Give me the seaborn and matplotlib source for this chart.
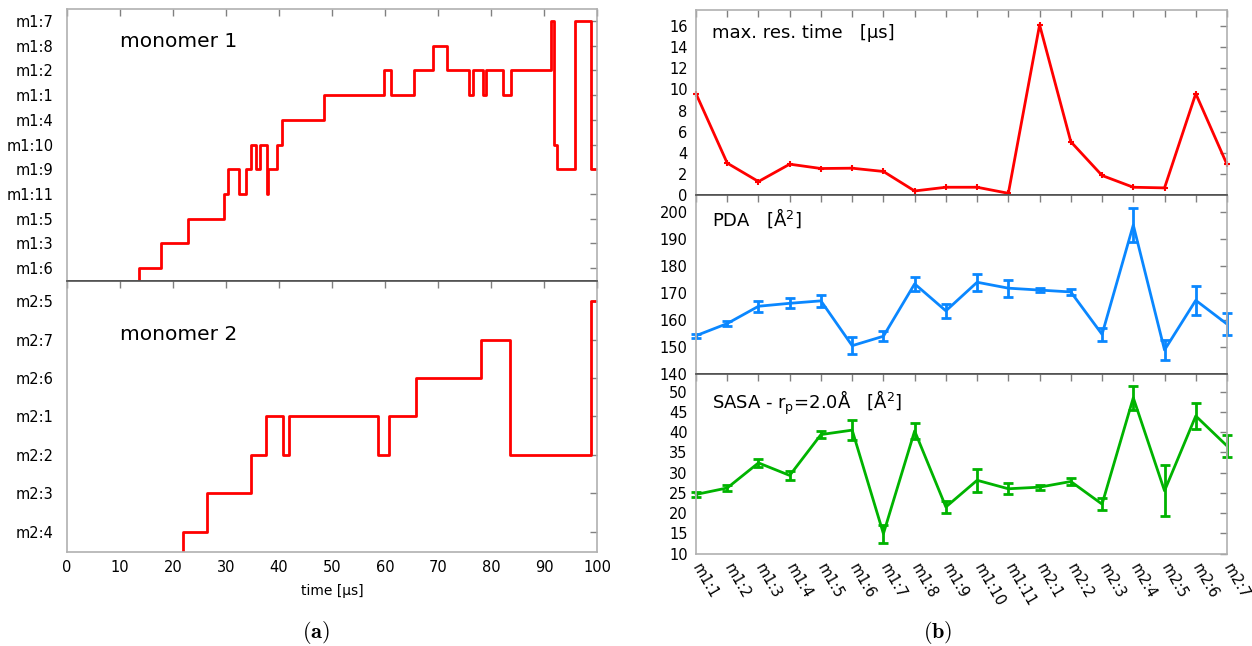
import numpy as np
import pandas as pd
import matplotlib
matplotlib.use("Agg")
import matplotlib.pyplot as plt
import seaborn as sns

sns.set_theme(style="white")
plt.rcParams["font.family"] = ["DejaVu Sans"]
plt.rcParams["text.color"] = "black"
plt.rcParams["axes.labelcolor"] = "black"

# ---------------- data (a) ----------------
m1_levels = ["m1:6", "m1:3", "m1:5", "m1:11", "m1:9", "m1:10", "m1:4", "m1:1", "m1:2", "m1:8", "m1:7"]
m1_time = [0, 13.6, 17.7, 22.9, 29.6, 30.5, 32.5, 33.9, 34.7, 35.7, 36.4, 37.7, 38.0, 39.7,
           40.6, 48.5, 59.9, 61.1, 65.5, 69.1, 71.7, 75.8, 76.6, 78.5, 79.0, 82.2, 83.7,
           91.4, 91.8, 92.5, 95.8, 98.8, 100]
m1_state = ["none", "m1:6", "m1:3", "m1:5", "m1:11", "m1:9", "m1:11", "m1:9", "m1:10", "m1:9",
            "m1:10", "m1:11", "m1:9", "m1:10", "m1:4", "m1:1", "m1:2", "m1:1", "m1:2", "m1:8",
            "m1:2", "m1:1", "m1:2", "m1:1", "m1:2", "m1:1", "m1:2", "m1:7", "m1:10", "m1:9",
            "m1:7", "m1:9", "m1:9"]

m2_levels = ["m2:4", "m2:3", "m2:2", "m2:1", "m2:6", "m2:7", "m2:5"]
m2_time = [0, 21.9, 26.4, 34.7, 37.5, 40.8, 41.9, 58.7, 60.7, 65.9, 78.2, 83.6, 98.8, 100]
m2_state = ["none", "m2:4", "m2:3", "m2:2", "m2:1", "m2:2", "m2:1", "m2:2", "m2:1", "m2:6",
            "m2:7", "m2:2", "m2:5", "m2:5"]

time_ticks = [0, 10, 20, 30, 40, 50, 60, 70, 80, 90, 100]

# ---------------- data (b) ----------------
sites = ["m1:1", "m1:2", "m1:3", "m1:4", "m1:5", "m1:6", "m1:7", "m1:8", "m1:9", "m1:10",
         "m1:11", "m2:1", "m2:2", "m2:3", "m2:4", "m2:5", "m2:6", "m2:7"]
max_res = [9.6, 3.04, 1.3, 2.94, 2.53, 2.56, 2.25, 0.41, 0.76, 0.76, 0.19, 16.1, 5.06, 1.87,
           0.76, 0.70, 9.6, 2.91]
pda = [154.3, 158.8, 165.2, 166.3, 167.2, 150.6, 154.1, 173.5, 163.5, 174.1, 171.9, 171.2,
       170.5, 154.8, 195.3, 149.0, 167.4, 158.6]
pda_err = [0.7, 1.0, 2.1, 1.9, 2.2, 3.1, 1.85, 2.7, 2.6, 3.1, 3.1, 0.7, 1.05, 2.3, 6.3, 3.7,
           5.4, 4.1]
sasa = [24.6, 26.2, 32.4, 29.3, 39.4, 40.5, 14.9, 40.3, 21.5, 28.1, 26.0, 26.4, 27.8, 22.2,
        48.5, 25.5, 44.0, 36.6]
sasa_err = [0.6, 0.7, 1.0, 1.2, 0.95, 2.4, 2.2, 1.9, 1.6, 2.9, 1.4, 0.65, 0.9, 1.55, 3.0, 6.3,
            3.1, 2.7]

RED = "#ff0000"
BLUE = "#0a87ff"
GREEN = "#00b300"
LIGHT = "#b0b0b0"
DARK = "#505050"

W, H = 1252, 646
fig = plt.figure(figsize=(W / 100, H / 100), dpi=100)


def px_axes(x0, y0, x1, y1):
    return fig.add_axes([x0 / W, 1 - y1 / H, (x1 - x0) / W, (y1 - y0) / H])


def style(ax, top_dark=False, bottom_dark=False, ypad=6):
    for s in ["left", "right", "top", "bottom"]:
        ax.spines[s].set_color(LIGHT)
        ax.spines[s].set_linewidth(1.2)
        ax.spines[s].set_visible(True)
    if top_dark:
        ax.spines["top"].set_color(DARK)
    if bottom_dark:
        ax.spines["bottom"].set_color(DARK)
    ax.tick_params(axis="both", which="both", direction="in", length=5, width=1,
                   color="#808080", top=True, right=True, labelsize=10.5,
                   labelcolor="black", pad=6)
    ax.tick_params(axis="y", pad=ypad)
    ax.grid(False)
    ax.set_facecolor("white")


# ---------- (a) top ----------
ax1 = px_axes(66.7, 9, 597, 281)
map1 = {k: i for i, k in enumerate(m1_levels)}
map1["none"] = -2
df1 = pd.DataFrame({"t": m1_time, "y": [map1[s] for s in m1_state]})
sns.lineplot(data=df1, x="t", y="y", ax=ax1, color=RED, lw=2, drawstyle="steps-post",
             estimator=None, sort=False)
ax1.set_xlim(0, 100)
ax1.set_ylim(-0.53, 10.49)
ax1.set_yticks(range(len(m1_levels)))
ax1.set_yticklabels(m1_levels)
ax1.set_xticks(time_ticks)
ax1.set_xticklabels([])
ax1.set_xlabel("")
ax1.set_ylabel("")
style(ax1, bottom_dark=True, ypad=9.5)
ax1.text(0.1, 0.879, "monomer 1", transform=ax1.transAxes, fontsize=14.5, va="center",
         color="black")

# ---------- (a) bottom ----------
ax2 = px_axes(66.7, 281, 597, 552)
map2 = {k: i for i, k in enumerate(m2_levels)}
map2["none"] = -2
df2 = pd.DataFrame({"t": m2_time, "y": [map2[s] for s in m2_state]})
sns.lineplot(data=df2, x="t", y="y", ax=ax2, color=RED, lw=2, drawstyle="steps-post",
             estimator=None, sort=False)
ax2.set_xlim(0, 100)
ax2.set_ylim(-0.52, 6.52)
ax2.set_yticks(range(len(m2_levels)))
ax2.set_yticklabels(m2_levels)
ax2.set_xticks(time_ticks)
ax2.set_xticklabels([str(v) for v in time_ticks])
ax2.set_xlabel("time [µs]", fontsize=10, labelpad=6, color="black")
ax2.set_ylabel("")
style(ax2, top_dark=True, ypad=9.5)
ax2.text(0.1, 0.804, "monomer 2", transform=ax2.transAxes, fontsize=14.5, va="center",
         color="black")

# ---------- (b) ----------
xpos = list(range(len(sites)))
axA = px_axes(696, 10, 1227, 195.3)
axB = px_axes(696, 195.3, 1227, 374.3)
axC = px_axes(696, 374.3, 1227, 553.5)

dfA = pd.DataFrame({"x": xpos, "v": max_res})
sns.lineplot(data=dfA, x="x", y="v", ax=axA, color=RED, lw=2, marker="+", markersize=5,
             mew=1.5, mec=RED)
axA.set_ylim(0, 17.5)
axA.set_yticks([0, 2, 4, 6, 8, 10, 12, 14, 16])
style(axA, bottom_dark=True)
axA.text(0.03, 0.876, "max. res. time   [µs]", transform=axA.transAxes, fontsize=13,
         va="center", color="black")

dfB = pd.DataFrame({"x": xpos, "v": pda, "e": pda_err})
sns.lineplot(data=dfB, x="x", y="v", ax=axB, color=BLUE, lw=2)
ebB = axB.errorbar(dfB["x"], dfB["v"], yerr=dfB["e"], fmt="none", ecolor=BLUE, elinewidth=2,
                   capsize=3.5, capthick=2)
axB.set_ylim(140, 206.3)
axB.set_yticks([140, 150, 160, 170, 180, 190, 200])
style(axB, top_dark=True, bottom_dark=True)
axB.text(0.03, 0.873, "PDA   [Å$^2$]", transform=axB.transAxes, fontsize=13, va="center",
         color="black")

dfC = pd.DataFrame({"x": xpos, "v": sasa, "e": sasa_err})
sns.lineplot(data=dfC, x="x", y="v", ax=axC, color=GREEN, lw=2)
ebC = axC.errorbar(dfC["x"], dfC["v"], yerr=dfC["e"], fmt="none", ecolor=GREEN, elinewidth=2,
                   capsize=3.5, capthick=2)
axC.set_ylim(10, 54.3)
axC.set_yticks([10, 15, 20, 25, 30, 35, 40, 45, 50])
style(axC, top_dark=True)
axC.text(0.03, 0.84, r"SASA - r$_\mathregular{p}$=2.0Å   [Å$^2$]", transform=axC.transAxes,
         fontsize=13, va="center", color="black")

for eb in (ebB, ebC):
    for child in eb.get_children():
        child.set_clip_on(False)

for ax in (axA, axB, axC):
    ax.set_xlim(0, len(sites) - 1)
    ax.set_xticks(xpos)
    ax.set_xlabel("")
    ax.set_ylabel("")
    for l in ax.get_lines():
        l.set_clip_on(False)
    for c in ax.collections:
        c.set_clip_on(False)
axA.set_xticklabels([])
axB.set_xticklabels([])
axC.set_xticklabels(sites, rotation=-60, ha="left", va="center", rotation_mode="anchor")
axC.tick_params(axis="x", pad=8)

fig.text(316 / W, 1 - 632 / H, r"$\mathbf{(a)}$", math_fontfamily="cm", fontsize=16,
         ha="center", va="center", color="black")
fig.text(938 / W, 1 - 632 / H, r"$\mathbf{(b)}$", math_fontfamily="cm", fontsize=16,
         ha="center", va="center", color="black")

fig.savefig("out.png", dpi=100, facecolor="white")
